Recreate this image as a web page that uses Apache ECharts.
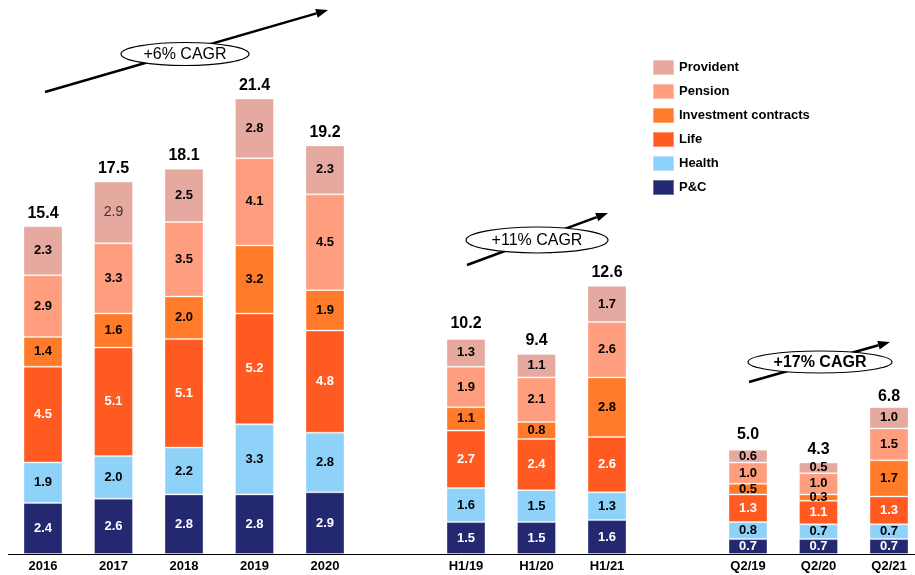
<!DOCTYPE html>
<html>
<head>
<meta charset="utf-8">
<script src="https://cdn.jsdelivr.net/npm/echarts@6/dist/echarts.min.js"></script>
<style>
html, body { margin: 0; padding: 0; background: #fff; }
#main { width: 915px; height: 575px; }
</style>
</head>
<body>
<div id="main"></div>
<script>
// categories, blank slots separate the three groups
var categories = ['2016', '2017', '2018', '2019', '2020', '', 'H1/19', 'H1/20', 'H1/21', '', 'Q2/19', 'Q2/20', 'Q2/21'];

var pc         = [2.4, 2.6, 2.8, 2.8, 2.9, null, 1.5, 1.5, 1.6, null, 0.7, 0.7, 0.7];
var health     = [1.9, 2.0, 2.2, 3.3, 2.8, null, 1.6, 1.5, 1.3, null, 0.8, 0.7, 0.7];
var life       = [4.5, 5.1, 5.1, 5.2, 4.8, null, 2.7, 2.4, 2.6, null, 1.3, 1.1, 1.3];
var investment = [1.4, 1.6, 2.0, 3.2, 1.9, null, 1.1, 0.8, 2.8, null, 0.5, 0.3, 1.7];
var pension    = [2.9, 3.3, 3.5, 4.1, 4.5, null, 1.9, 2.1, 2.6, null, 1.0, 1.0, 1.5];
var provident  = [2.3, 2.9, 2.5, 2.8, 2.3, null, 1.3, 1.1, 1.7, null, 0.6, 0.5, 1.0];
var totals     = [15.4, 17.5, 18.1, 21.4, 19.2, null, 10.2, 9.4, 12.6, null, 5.0, 4.3, 6.8];

var FONT = '"Liberation Sans", Arial, sans-serif';

function seg(name, values, color, labelColor) {
  return {
    name: name,
    type: 'bar',
    stack: 'total',
    barWidth: 39,
    data: values.map(function (v, i) {
      // the 2017 provident label is set in plain type in the source
      if (name === 'Provident' && i === 1) {
        return { value: v, label: { fontWeight: 'normal', fontSize: 14, color: '#333' } };
      }
      return v;
    }),
    itemStyle: { color: color, borderColor: 'rgba(255,255,255,0.35)', borderWidth: 1 },
    label: {
      show: true,
      position: 'inside',
      color: labelColor,
      fontFamily: FONT,
      fontWeight: 'bold',
      fontSize: 13,
      formatter: function (p) { return p.value == null ? '' : p.value.toFixed(1); }
    }
  };
}

function arrow(x1, y1, x2, y2) {
  var dx = x2 - x1, dy = y2 - y1, len = Math.sqrt(dx * dx + dy * dy);
  var ux = dx / len, uy = dy / len, nx = -uy, ny = ux;
  var bx = x2 - ux * 12, by = y2 - uy * 12;
  return [
    { type: 'line', z: 10, shape: { x1: x1, y1: y1, x2: bx, y2: by },
      style: { stroke: '#000', lineWidth: 2.5 } },
    { type: 'polygon', z: 10, shape: { points: [[x2, y2], [bx + nx * 4.5, by + ny * 4.5], [bx - nx * 4.5, by - ny * 4.5]] },
      style: { fill: '#000' } }
  ];
}

function badge(cx, cy, rx, ry, text, bold) {
  return [
    { type: 'ellipse', z: 11, shape: { cx: cx, cy: cy, rx: rx, ry: ry },
      style: { fill: '#fff', stroke: '#000', lineWidth: 1.2 } },
    { type: 'text', z: 12, x: cx, y: cy + 1,
      style: { text: text, fill: '#000', font: (bold ? 'bold ' : '') + '16px ' + FONT,
               textAlign: 'center', textVerticalAlign: 'middle' } }
  ];
}

var graphics = [
  // baseline runs the full width of the slide
  { type: 'line', z: 5, shape: { x1: 8, y1: 554.5, x2: 915, y2: 554.5 }, style: { stroke: '#000', lineWidth: 1 } }
]
  .concat(arrow(45, 92, 328, 10)).concat(badge(185, 54, 64, 11.5, '+6% CAGR', false))
  .concat(arrow(467, 265, 608, 213)).concat(badge(537, 240, 71, 13, '+11% CAGR', false))
  .concat(arrow(749, 382, 890, 342)).concat(badge(820, 362, 72, 11, '+17% CAGR', true));

var chart = echarts.init(document.getElementById('main'));
chart.setOption({
  animation: false,
  backgroundColor: '#fff',
  grid: { left: 43, right: 26, top: 22, bottom: 21, containLabel: false },
  legend: {
    data: ['Provident', 'Pension', 'Investment contracts', 'Life', 'Health', 'P&C'],
    orient: 'vertical',
    left: 647,
    top: 54,
    itemWidth: 21,
    itemHeight: 15,
    itemGap: 7,
    icon: 'rect',
    selectedMode: false,
    textStyle: { fontFamily: FONT, fontWeight: 'bold', fontSize: 13, color: '#000' }
  },
  xAxis: {
    type: 'category',
    data: categories,
    boundaryGap: false,
    axisLine: { show: false },
    axisTick: { show: false },
    axisLabel: { color: '#000', fontFamily: FONT, fontWeight: 'bold', fontSize: 13, margin: 6, interval: 0 }
  },
  yAxis: {
    type: 'value',
    min: 0,
    max: 25,
    show: false,
    splitLine: { show: false }
  },
  series: [
    seg('P&C', pc, '#242870', '#fff'),
    seg('Health', health, '#8ED2FA', '#000'),
    seg('Life', life, '#FF5A22', '#fff'),
    seg('Investment contracts', investment, '#FF7A29', '#000'),
    seg('Pension', pension, '#FF9E7E', '#000'),
    seg('Provident', provident, '#E6A9A0', '#000'),
    {
      name: 'Total',
      type: 'bar',
      barWidth: 39,
      barGap: '-100%',
      silent: true,
      z: 1,
      data: totals,
      itemStyle: { color: 'rgba(0,0,0,0)' },
      label: {
        show: true,
        position: 'top',
        distance: 5,
        color: '#000',
        fontFamily: FONT,
        fontWeight: 'bold',
        fontSize: 16,
        formatter: function (p) { return p.value == null ? '' : p.value.toFixed(1); }
      }
    }
  ],
  graphic: graphics
});
</script>
</body>
</html>
